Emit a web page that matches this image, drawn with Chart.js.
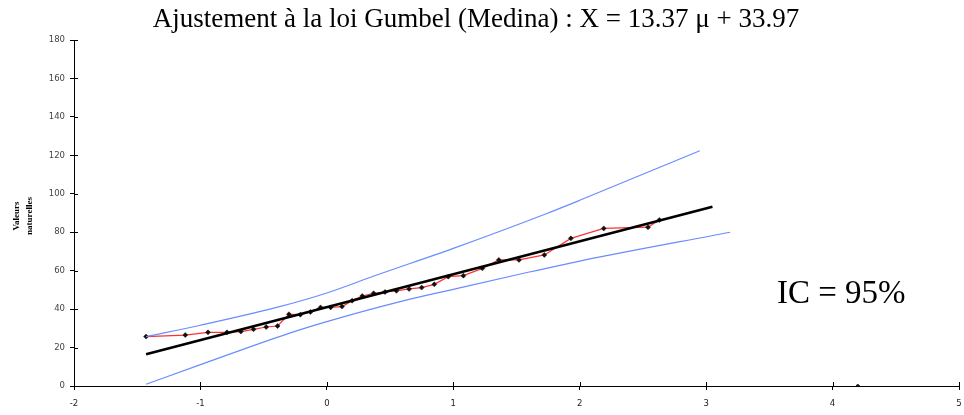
<!DOCTYPE html>
<html>
<head>
<meta charset="utf-8">
<script src="https://cdn.jsdelivr.net/npm/chart.js@4"></script>
<style>
  html, body { margin: 0; padding: 0; background: #fff; }
  #wrap { width: 964px; height: 415px; }
</style>
</head>
<body>
<div id="wrap"><canvas id="gumbelCanvas" width="964" height="415"></canvas></div>
<script>
// variable réduite de Gumbel et valeurs observées
const gumbelU = [-1.43, -1.12, -0.94, -0.79, -0.68, -0.58, -0.48, -0.39, -0.30, -0.21, -0.13, -0.05,
                 0.03, 0.12, 0.20, 0.28, 0.37, 0.46, 0.55, 0.65, 0.75, 0.85, 0.96, 1.08,
                 1.23, 1.36, 1.52, 1.72, 1.93, 2.19, 2.54, 2.63];
const observed = [25.7, 26.5, 27.9, 27.9, 28.3, 29.5, 30.7, 31.2, 37.3, 37.1, 38.5, 40.9,
                  40.9, 41.3, 44.4, 46.8, 48.2, 48.9, 49.5, 50.5, 51.2, 52.9, 56.9, 57.4,
                  61.2, 65.6, 65.6, 68.2, 76.8, 82.0, 82.6, 86.4];

// droite d'ajustement
const fitU = [-1.43, 3.05];
const fitV = [16.5, 93.3];

// intervalle de confiance 95%
const upperU = [-1.43, -1.0, -0.39, 0, 0.39, 1.0, 1.73, 2.0, 2.95];
const upperV = [25.7, 31.6, 41.0, 48.4, 57.6, 71.6, 89.5, 96.6, 122.4];
const lowerU = [-1.43, -1.0, -0.30, 0, 0.58, 1.0, 1.54, 2.0, 3.19];
const lowerV = [0.9, 11.1, 27.4, 33.5, 43.9, 50.3, 58.4, 65.0, 80.0];

// petit point isolé sur l'axe
const strayU = [4.2];
const strayV = [0];

const xTicks = [-2, -1, 0, 1, 2, 3, 4, 5];
const yTicks = [0, 20, 40, 60, 80, 100, 120, 140, 160, 180];

const titleText = "Ajustement à la loi Gumbel (Medina) : X = 13.37 μ + 33.97";
const icText = "IC = 95%";
const yTitle = ["Valeurs", "naturelles"];

const pts = (xs, ys) => xs.map((x, i) => ({ x: x, y: ys[i] }));

// textes et petits traits de graduation qui traversent les axes
const decor = {
  id: 'decor',
  afterDraw(chart) {
    const ctx = chart.ctx;
    const xs = chart.scales.x, ys = chart.scales.y;
    ctx.save();
    ctx.strokeStyle = '#000';
    ctx.lineWidth = 1;
    ctx.beginPath();
    xs.ticks.forEach((t, i) => {
      const px = Math.round(xs.getPixelForTick(i)) + 0.5;
      ctx.moveTo(px, ys.bottom - 4);
      ctx.lineTo(px, ys.bottom);
    });
    ys.ticks.forEach((t, i) => {
      const py = Math.round(ys.getPixelForTick(i)) + 0.5;
      ctx.moveTo(xs.left, py);
      ctx.lineTo(xs.left + 4, py);
    });
    ctx.stroke();

    ctx.fillStyle = '#000';
    ctx.textAlign = 'center';
    ctx.textBaseline = 'middle';
    ctx.font = '27px "Liberation Serif"';
    ctx.fillText(titleText, 476, 20);

    ctx.textAlign = 'left';
    ctx.textBaseline = 'alphabetic';
    ctx.font = '33px "Liberation Serif"';
    ctx.fillText(icText, 777, 303);

    ctx.translate(24, 216);
    ctx.rotate(-Math.PI / 2);
    ctx.textAlign = 'center';
    ctx.textBaseline = 'middle';
    ctx.font = 'bold 9px "Liberation Serif"';
    ctx.fillText(yTitle[0], 0, -7);
    ctx.fillText(yTitle[1], 0, 6);
    ctx.restore();
  }
};

const gumbelChart = new Chart(document.getElementById('gumbelCanvas'), {
  type: 'scatter',
  data: {
    datasets: [
      {
        label: 'IC sup',
        data: pts(upperU, upperV),
        showLine: true,
        borderColor: '#6a8cff',
        borderWidth: 1.2,
        cubicInterpolationMode: 'monotone',
        pointRadius: 0,
        order: 1
      },
      {
        label: 'IC inf',
        data: pts(lowerU, lowerV),
        showLine: true,
        borderColor: '#6a8cff',
        borderWidth: 1.2,
        cubicInterpolationMode: 'monotone',
        pointRadius: 0,
        order: 1
      },
      {
        label: 'Ajustement',
        data: pts(fitU, fitV),
        showLine: true,
        borderColor: '#000',
        borderWidth: 2.6,
        pointRadius: 0,
        order: 2
      },
      {
        label: 'Observations',
        data: pts(gumbelU, observed),
        showLine: true,
        borderColor: '#ff3030',
        borderWidth: 1.2,
        pointStyle: 'rectRot',
        pointRadius: 2.5,
        pointBackgroundColor: '#111',
        pointBorderColor: '#111',
        pointBorderWidth: 0.5,
        order: 3
      },
      {
        label: 'point',
        data: pts(strayU, strayV),
        pointRadius: 1.5,
        pointBackgroundColor: '#222',
        pointBorderColor: '#222',
        order: 0
      }
    ]
  },
  options: {
    responsive: false,
    animation: false,
    layout: { padding: { top: 40, right: 5, left: 0, bottom: 0 } },
    plugins: {
      legend: { display: false },
      tooltip: { enabled: false },
      title: { display: false }
    },
    scales: {
      x: {
        type: 'linear',
        min: -2,
        max: 5,
        afterBuildTicks: s => { s.ticks = xTicks.map(v => ({ value: v })); },
        afterFit: s => { s.height = 29; s.paddingRight = 0; s.paddingLeft = 0; },
        border: { color: '#000', width: 1 },
        grid: { drawOnChartArea: false, drawTicks: true, tickLength: 4, color: '#000' },
        ticks: {
          color: '#222',
          padding: 9,
          maxRotation: 0,
          font: { family: 'DejaVu Sans', size: 8.5 }
        }
      },
      y: {
        type: 'linear',
        min: 0,
        max: 180,
        afterBuildTicks: s => { s.ticks = yTicks.map(v => ({ value: v })); },
        afterFit: s => { s.width = 74; },
        border: { color: '#000', width: 1 },
        grid: { drawOnChartArea: false, drawTicks: true, tickLength: 4, color: '#000' },
        ticks: {
          color: '#444',
          padding: 5,
          font: { family: 'DejaVu Sans', size: 8.5 }
        }
      }
    }
  },
  plugins: [decor]
});
</script>
</body>
</html>
